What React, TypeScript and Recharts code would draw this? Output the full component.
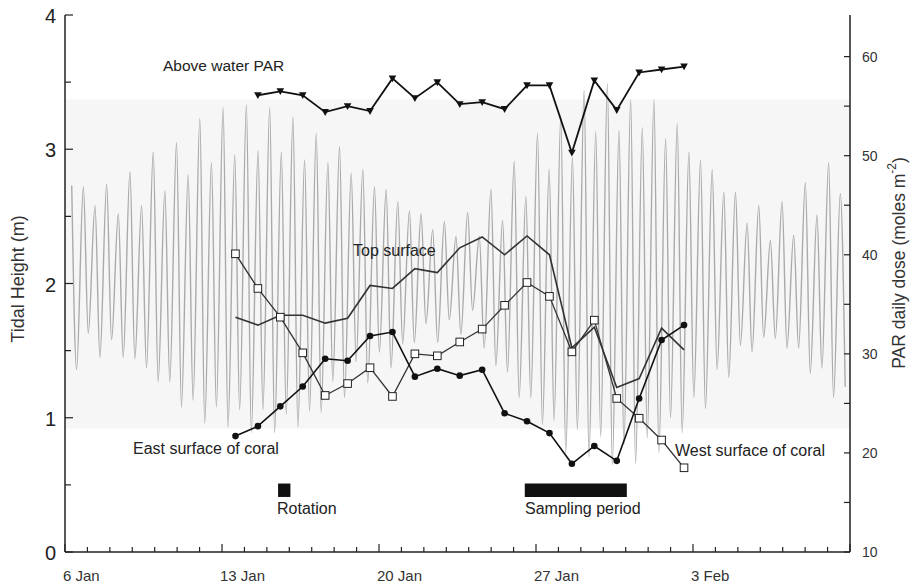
import React from "react";
import { ComposedChart, Line, XAxis, YAxis, ReferenceArea } from "recharts";

// x axis = days after 6 Jan
const dateLabels = ["6 Jan", "13 Jan", "20 Jan", "27 Jan", "3 Feb"];

// tide: one high and the following low per tidal cycle (m)
const firstHighDay = 0.3;
const tidePeriod = 0.5192;
const lowLag = 0.42;
const tideHigh = [
  2.73, 2.72, 2.58, 2.74, 2.52, 2.83, 2.58, 2.98, 2.69, 3.05,
  2.81, 3.23, 2.9, 3.31, 2.96, 3.33, 2.99, 3.31, 2.98, 3.24,
  2.92, 3.12, 2.9, 3.02, 2.82, 2.85, 2.72, 2.7, 2.61, 2.54,
  2.52, 2.4, 2.46, 2.35, 2.53, 2.35, 2.7, 2.47, 2.91, 2.65,
  3.12, 2.85, 3.25, 2.94, 3.44, 3.13, 3.49, 3.14, 3.37, 3.16,
  3.37, 3.08, 3.19, 2.98, 2.92, 2.85, 2.68, 2.68, 2.45, 2.58,
  2.32, 2.61, 2.36, 2.75, 2.51, 2.9, 2.67,
];
const tideLow = [
  1.36, 1.63, 1.45, 1.58, 1.45, 1.44, 1.37, 1.27, 1.27, 1.08,
  1.13, 0.96, 1.08, 0.93, 1.06, 0.89, 1.06, 0.89, 1.03, 0.93,
  1.05, 1.04, 1.27, 1.15, 1.42, 1.26, 1.49, 1.37, 1.55, 1.56,
  1.7, 1.56, 1.73, 1.62, 1.8, 1.52, 1.39, 1.34, 1.15, 1.15,
  0.95, 0.98, 0.74, 0.91, 0.71, 0.86, 0.65, 0.8, 0.66, 0.85,
  0.74, 1.0, 0.89, 1.15, 1.07, 1.36, 1.3, 1.54, 1.49, 1.6,
  1.59, 1.52, 1.52, 1.33, 1.37, 1.15, 1.23,
];

// PAR daily dose (moles m-2)
const parDays = [
  8.6, 9.6, 10.6, 11.6, 12.6, 13.6, 14.6, 15.6, 16.6, 17.6,
  18.6, 19.6, 20.6, 21.6, 22.6, 23.6, 24.6, 25.6, 26.6, 27.6,
];
const aboveWaterPar = [
  56.1, 56.5, 56.1, 54.4, 55.0, 54.5, 57.8, 55.8, 57.4, 55.2,
  55.4, 54.7, 57.1, 57.1, 50.3, 57.6, 54.6, 58.4, 58.7, 59.0,
];
const coralDays = [
  7.6, 8.6, 9.6, 10.6, 11.6, 12.6, 13.6, 14.6, 15.6, 16.6, 17.6,
  18.6, 19.6, 20.6, 21.6, 22.6, 23.6, 24.6, 25.6, 26.6, 27.6,
];
const topSurface = [
  33.7, 32.9, 33.9, 33.9, 33.1, 33.6, 36.9, 36.6, 38.6, 38.2, 40.7,
  41.8, 40.0, 41.9, 40.0, 30.6, 32.7, 26.6, 27.5, 32.6, 30.4,
];
const eastSurface = [
  21.7, 22.7, 24.7, 26.7, 29.5, 29.3, 31.8, 32.2, 27.7, 28.5, 27.8,
  28.4, 24.0, 23.2, 22.0, 18.9, 20.7, 19.2, 25.5, 31.4, 32.9,
];
const westSurface = [
  40.1, 36.6, 33.7, 30.1, 25.8, 27.0, 28.6, 25.7, 30.0, 29.8, 31.2,
  32.5, 34.9, 37.2, 35.8, 30.2, 33.4, 25.5, 23.5, 21.3, 18.5,
];

// black bars at the bottom (days, m)
const rotationDays = [9.5, 10.05];
const samplingDays = [20.5, 25.05];
const barHeight = [0.41, 0.51];

const tideData = tideHigh.flatMap((h, i) => {
  const t = firstHighDay + i * tidePeriod;
  return [
    { d: t, v: h },
    { d: t + tidePeriod * lowLag, v: tideLow[i] },
  ];
});
const toSeries = (days: number[], vals: number[]) =>
  days.map((d, i) => ({ d, v: vals[i] }));

const FONT = "'Liberation Sans', Arial, sans-serif";
const INK = "#222";

const xTicks = Array.from({ length: 36 }, (_, i) => i);
const leftTicks = [0, 0.5, 1, 1.5, 2, 2.5, 3, 3.5, 4];
const rightTicks = [10, 15, 20, 25, 30, 35, 40, 45, 50, 55, 60];

const XTick = (p: any) => {
  const { x, y, payload } = p;
  const v = payload.value;
  const major = v % 7 === 0;
  return (
    <g>
      <line x1={x} x2={x} y1={y} y2={y - (major ? 8 : 5)} stroke={INK} strokeWidth={1.2} />
      {major && (
        <text x={x - 2} y={y + 29} fontSize={15} fill="#333" fontFamily={FONT}>
          {dateLabels[v / 7]}
        </text>
      )}
    </g>
  );
};

const LeftTick = (p: any) => {
  const { x, y, payload } = p;
  const v = payload.value;
  const major = Number.isInteger(v);
  return (
    <g>
      <line x1={x} x2={x + (major ? 8 : 6)} y1={y} y2={y} stroke={INK} strokeWidth={1.2} />
      {major && (
        <text x={x - 9} y={y + 8} textAnchor="end" fontSize={20} fill={INK} fontFamily={FONT}>
          {v}
        </text>
      )}
    </g>
  );
};

const RightTick = (p: any) => {
  const { x, y, payload } = p;
  const v = payload.value;
  const major = v % 10 === 0;
  return (
    <g>
      <line x1={x} x2={x - 6} y1={y} y2={y} stroke={INK} strokeWidth={1.2} />
      {major && (
        <text x={x + 12} y={y + 5} fontSize={14} fill="#333" fontFamily={FONT}>
          {v}
        </text>
      )}
    </g>
  );
};

const TriDot = (p: any) => {
  const { cx, cy, index } = p;
  return (
    <path
      key={`t${index}`}
      d={`M${cx - 3.8},${cy - 3} L${cx + 3.8},${cy - 3} L${cx},${cy + 3.8} Z`}
      fill="#111"
    />
  );
};
const CircleDot = (p: any) => {
  const { cx, cy, index } = p;
  return <circle key={`c${index}`} cx={cx} cy={cy} r={3.3} fill="#111" />;
};
const SquareDot = (p: any) => {
  const { cx, cy, index } = p;
  return (
    <rect key={`s${index}`} x={cx - 3.8} y={cy - 3.8} width={7.6} height={7.6} fill="#fff" stroke="#222" strokeWidth={1} />
  );
};

const note = (x: number, y: number, s: string, size = 16) => (
  <text x={x} y={y} fontSize={size} fill={INK} fontFamily={FONT}>
    {s}
  </text>
);

export default function App() {
  return (
    <div style={{ position: "absolute", left: 0, top: 0, width: 910, height: 583, background: "#fff", overflow: "hidden" }}>
      <ComposedChart width={910} height={583} margin={{ top: 15, right: 0, bottom: 0, left: 0 }}>
        <XAxis
          dataKey="d"
          type="number"
          domain={[0, 35]}
          ticks={xTicks}
          interval={0}
          height={31}
          tickSize={0}
          tickMargin={0}
          tickLine={false}
          tick={(p: any) => <XTick {...p} />}
          axisLine={{ stroke: INK, strokeWidth: 1.5 }}
          allowDataOverflow
        />
        <YAxis
          yAxisId="tide"
          type="number"
          domain={[0, 4]}
          ticks={leftTicks}
          interval={0}
          width={65}
          tickSize={0}
          tickMargin={0}
          tickLine={false}
          tick={(p: any) => <LeftTick {...p} />}
          axisLine={{ stroke: INK, strokeWidth: 1.5 }}
          allowDataOverflow
        />
        <YAxis
          yAxisId="par"
          orientation="right"
          type="number"
          domain={[10, 64.2]}
          ticks={rightTicks}
          interval={0}
          width={60}
          tickSize={0}
          tickMargin={0}
          tickLine={false}
          tick={(p: any) => <RightTick {...p} />}
          axisLine={{ stroke: INK, strokeWidth: 1.5 }}
          allowDataOverflow
        />
        <ReferenceArea yAxisId="tide" y1={0.92} y2={3.37} fill="#f6f6f6" fillOpacity={1} stroke="none" />
        <ReferenceArea yAxisId="tide" x1={rotationDays[0]} x2={rotationDays[1]} y1={barHeight[0]} y2={barHeight[1]} fill="#111" fillOpacity={1} stroke="none" />
        <ReferenceArea yAxisId="tide" x1={samplingDays[0]} x2={samplingDays[1]} y1={barHeight[0]} y2={barHeight[1]} fill="#111" fillOpacity={1} stroke="none" />
        <Line yAxisId="tide" data={tideData} dataKey="v" type="monotoneX" stroke="#aaaaaa" strokeWidth={1.4} dot={false} isAnimationActive={false} />
        <Line yAxisId="par" data={toSeries(coralDays, topSurface)} dataKey="v" type="linear" stroke="#333" strokeWidth={1.6} dot={false} isAnimationActive={false} />
        <Line yAxisId="par" data={toSeries(coralDays, westSurface)} dataKey="v" type="linear" stroke="#333" strokeWidth={1.3} dot={(p: any) => <SquareDot {...p} />} isAnimationActive={false} />
        <Line yAxisId="par" data={toSeries(coralDays, eastSurface)} dataKey="v" type="linear" stroke="#111" strokeWidth={1.6} dot={(p: any) => <CircleDot {...p} />} isAnimationActive={false} />
        <Line yAxisId="par" data={toSeries(parDays, aboveWaterPar)} dataKey="v" type="linear" stroke="#111" strokeWidth={1.8} dot={(p: any) => <TriDot {...p} />} isAnimationActive={false} />
      </ComposedChart>
      <svg width={910} height={583} style={{ position: "absolute", left: 0, top: 0, pointerEvents: "none" }}>
        {note(163, 71, "Above water PAR", 15.5)}
        {note(353, 256, "Top surface")}
        {note(133, 454, "East surface of coral")}
        {note(675, 456, "West surface of coral")}
        {note(277, 514, "Rotation")}
        {note(525, 514, "Sampling period")}
        <text
          transform="translate(18,279) rotate(-90)"
          textAnchor="middle"
          dominantBaseline="central"
          fontSize={18}
          fill="#333"
          fontFamily={FONT}
        >
          Tidal Height (m)
        </text>
        <text
          transform="translate(899,263) rotate(-90)"
          textAnchor="middle"
          dominantBaseline="central"
          fontSize={17.5}
          fill="#333"
          fontFamily={FONT}
        >
          PAR daily dose (moles m
          <tspan fontSize={12} dy={-7}>-2</tspan>
          <tspan dy={7}>)</tspan>
        </text>
      </svg>
    </div>
  );
}
